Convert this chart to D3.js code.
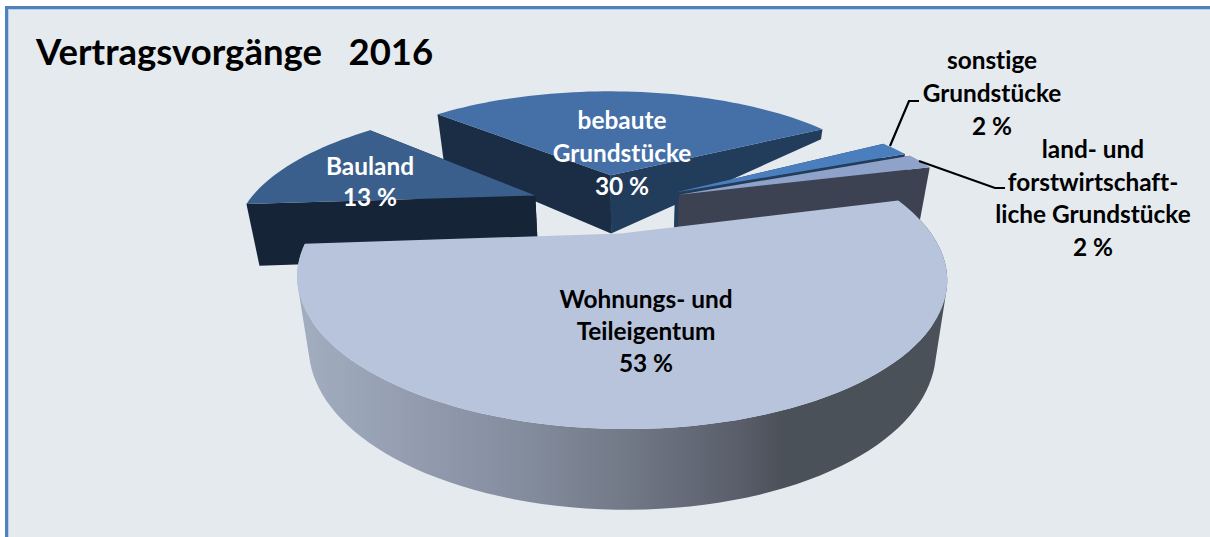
<!DOCTYPE html>
<html><head><meta charset="utf-8">
<script src="https://cdn.jsdelivr.net/npm/d3@7"></script>
<style>html,body{margin:0;padding:0;background:#fff;overflow:hidden}svg{display:block}text{font-family:Lato,"Open Sans",sans-serif;font-weight:700;font-variant-ligatures:none}</style>
</head><body><svg id="c" width="1210" height="537"></svg>
<script>
const chartTitle = "Vertragsvorgänge   2016";
const categories = ["bebaute Grundstücke","sonstige Grundstücke","land- und forstwirtschaftliche Grundstücke","Wohnungs- und Teileigentum","Bauland"];
const shares = [30,2,2,53,13];
const shareLabels = ["30 %","2 %","2 %","53 %","13 %"];
const labelLines = [["bebaute","Grundstücke"],["sonstige","Grundstücke"],["land- und","forstwirtschaft-","liche Grundstücke"],["Wohnungs- und","Teileigentum"],["Bauland"]];
const topColors = ["#4470a7","#4a7ebc","#8fa2c9","#b8c4dc","#3b5f8c"];
const wallColors = ["#1a2d45","#223c5c","#3c4252","#4b5159","#162438"];
const textColors = ["#fff","#000","#000","#000","#fff"];
// layout constants (projection of the exploded 3-D pie)
const P = {cx:605, cy:203, R:289, q:0.412, D:3.6, e:0.25, h0:62, h1:15, xc:622, kx:0.035};
const startDeg = -47.4;
const sliceNudge = [[-2,0],[7,2],[7,1],[3,-1],[-3,2]];
const sliceRadius = [1.02,1,1,1,1];
const labelAnchors = [[622,129],[992,69],[1093,158],[646,308],[370,175]];
const labelSteps = [33,33,32.5,32,31];
const leaderLines = [null,[[890,146],[909,101],[919,101]],[[919,161],[995,188],[1005,188]],null,null];
const paintOrder = [0,4,1,2,3];

const svg = d3.select("#c");
const rad = Math.PI/180;
// frame
svg.append("rect").attr("x",8).attr("y",9).attr("width",1202).attr("height",528).attr("fill","#e5eaef");
svg.append("rect").attr("x",8).attr("y",9).attr("width",1202).attr("height",1).attr("fill","#b9cde5");
svg.append("rect").attr("x",8).attr("y",9).attr("width",1).attr("height",528).attr("fill","#b9cde5");
svg.append("rect").attr("x",5).attr("y",6).attr("width",1205).attr("height",3).attr("fill","#4f81bd");
svg.append("rect").attr("x",5).attr("y",6).attr("width",3).attr("height",531).attr("fill","#4f81bd");

const defs = svg.append("defs");
const grad = defs.append("linearGradient").attr("id","rim").attr("gradientUnits","userSpaceOnUse").attr("x1",297).attr("x2",948).attr("y1",0).attr("y2",0);
[[0,"#a2adc0"],[0.15,"#969fb2"],[0.35,"#838c9d"],[0.5,"#727987"],[0.68,"#585d69"],[0.74,"#4b5159"],[1,"#4b5159"]].forEach(s=>grad.append("stop").attr("offset",s[0]).attr("stop-color",s[1]));

const arcs = d3.pie().sort(null).startAngle(startDeg*rad).endAngle(startDeg*rad+2*Math.PI)(shares);

function project(X,Y,Z){
  const w = 1 - Y/P.D;
  const x0 = P.cx + P.R*X/w, y0 = P.cy + P.R*P.q*Y/w;
  return [P.xc + (x0-P.xc)*(1-P.kx*Z), y0 + Z*(P.h0 + P.h1*Y)];
}
const line = d3.line();
arcs.forEach((a,i)=>{
  const mid=(a.startAngle+a.endAngle)/2;
  a.ox=P.e*Math.sin(mid); a.oy=-P.e*Math.cos(mid);
  a.rs=sliceRadius[i];
});
function rimPoint(a,t,Z){ return project(a.ox+a.rs*Math.sin(t),a.oy-a.rs*Math.cos(t),Z); }
function rimPts(a,Z){
  const n=Math.max(6,Math.round((a.endAngle-a.startAngle)/rad/2));
  return d3.range(n+1).map(k=>rimPoint(a,a.startAngle+(a.endAngle-a.startAngle)*k/n,Z));
}
const endWallTaper = {0:0.2};
paintOrder.forEach(i=>{
  const a=arcs[i], g=svg.append("g").attr("transform",`translate(${sliceNudge[i][0]},${sliceNudge[i][1]})`);
  const apex0=project(a.ox,a.oy,0), apex1=project(a.ox,a.oy,1);
  const r0=rimPts(a,0), r1=rimPts(a,1);
  const wall=wallColors[i];
  if(i===3){
    // outer wall as a union of quads so the silhouette is straight between the rims
    const d=d3.range(r0.length-1).map(k=>{
      const q=[r0[k],r0[k+1],r1[k+1],r1[k]];
      if(d3.polygonArea(q)<0) q.reverse();
      return line(q)+"Z";
    }).join("");
    g.append("path").attr("d",d).attr("fill","url(#rim)");
  } else {
    g.append("path").attr("d",line([apex0,r0[0],r1[0],apex1])+"Z").attr("fill",wall);
    const tz=endWallTaper[i]===undefined?1:endWallTaper[i];
    const e0=r0[r0.length-1];
    const e1=rimPoint(a,a.endAngle,tz);
    g.append("path").attr("d",line([apex0,e0,e1,apex1])+"Z").attr("fill",i===0?wallColors[1]:wall);
  }
  g.append("path").attr("d",line([apex0].concat(r0))+"Z").attr("fill",topColors[i]);
});
leaderLines.forEach(l=>{ if(l) svg.append("path").attr("d",line(l)).attr("fill","none").attr("stroke","#000").attr("stroke-width",2.2); });
svg.append("text").attr("x",36).attr("y",65).attr("font-size",36.5).attr("fill","#000").style("white-space","pre").text(chartTitle);
labelLines.forEach((lines,i)=>{
  const [x,y]=labelAnchors[i];
  const t=svg.append("text").attr("text-anchor","middle").attr("font-size",24.4).attr("fill",textColors[i]);
  lines.concat([shareLabels[i]]).forEach((s,k)=>{
    t.append("tspan").attr("x",x).attr("y",y+k*labelSteps[i]).text(s);
  });
});
</script></body></html>
